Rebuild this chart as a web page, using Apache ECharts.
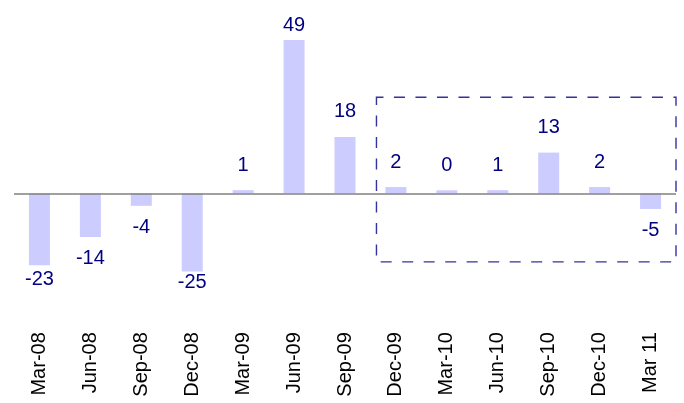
<!DOCTYPE html>
<html>
<head>
<meta charset="utf-8">
<style>
  html, body { margin: 0; padding: 0; background: #ffffff; }
  #chart { width: 684px; height: 403px; }
</style>
<script src="https://cdn.jsdelivr.net/npm/echarts@6/dist/echarts.min.js"></script>
</head>
<body>
<div id="chart"></div>
<script>
// Quarterly changes
const categories = ['Mar-08', 'Jun-08', 'Sep-08', 'Dec-08', 'Mar-09', 'Jun-09', 'Sep-09',
                    'Dec-09', 'Mar-10', 'Jun-10', 'Sep-10', 'Dec-10', 'Mar 11'];
const changes = [-23, -14, -4, -25, 1, 49, 18, 2, 0, 1, 13, 2, -5];

// Gap between each bar end and its value label
const labelGap = [4, 11, 12, 1, 15, 4, 15, 15, 15, 15, 15, 15, 12];

// Highlighted period (Dec-09 onward), vertical extent in value units
const boxTopValue = 30.7;
const boxBottomValue = -21.9;

const FONT = "'Liberation Sans', Arial, sans-serif";

const chart = echarts.init(document.getElementById('chart'), null, { renderer: 'canvas' });

const barData = changes.map((v, i) => ({
  value: v,
  label: {
    position: v < 0 ? 'bottom' : 'top',
    distance: labelGap[i]
  }
}));

chart.setOption({
  animation: false,
  backgroundColor: '#ffffff',
  grid: { left: 14, right: 8, top: 5.5, bottom: 115.8, containLabel: false },
  xAxis: {
    type: 'category',
    data: categories,
    axisLine: { show: false, onZero: false },
    axisTick: { show: false },
    axisLabel: {
      rotate: 90,
      margin: 45,
      color: '#000000',
      fontFamily: FONT,
      fontSize: 20,
      interval: 0
    },
    splitLine: { show: false }
  },
  yAxis: {
    type: 'value',
    min: -30,
    max: 60,
    show: false,
    splitLine: { show: false }
  },
  series: [{
    type: 'bar',
    data: barData,
    barWidth: 21,
    barMinHeight: 3,
    itemStyle: { color: '#ccccff' },
    label: {
      show: true,
      color: '#000080',
      fontFamily: FONT,
      fontSize: 20
    },
    markLine: {
      silent: true,
      symbol: 'none',
      label: { show: false },
      lineStyle: { color: '#808080', width: 1.5, type: 'solid' },
      data: [{ yAxis: 0 }]
    }
  }]
});

// Dashed frame around the Dec-09 .. Mar 11 bars
const xa = chart.convertToPixel({ xAxisIndex: 0 }, 6);
const xb = chart.convertToPixel({ xAxisIndex: 0 }, 7);
const xLast = chart.convertToPixel({ xAxisIndex: 0 }, categories.length - 1);
const band = xb - xa;
const boxLeft = (xa + xb) / 2 + 6;
const boxRight = xLast + band / 2;
const boxTop = chart.convertToPixel({ yAxisIndex: 0 }, boxTopValue);
const boxBottom = chart.convertToPixel({ yAxisIndex: 0 }, boxBottomValue);

chart.setOption({
  graphic: [{
    type: 'rect',
    silent: true,
    shape: { x: boxLeft, y: boxTop, width: boxRight - boxLeft, height: boxBottom - boxTop },
    style: {
      fill: 'none',
      stroke: '#33339a',
      lineWidth: 1.4,
      lineDash: [11, 10.5],
      lineDashOffset: 4
    }
  }]
});
</script>
</body>
</html>
